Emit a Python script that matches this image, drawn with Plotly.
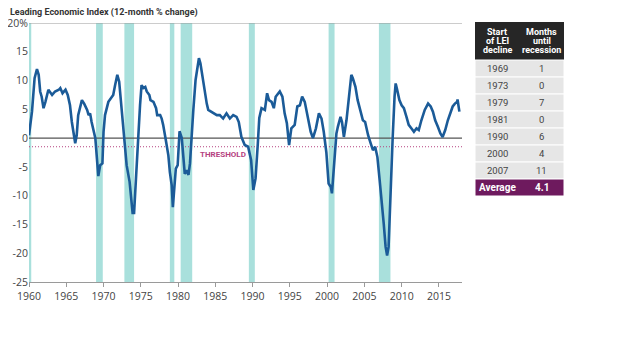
import plotly.graph_objects as go

# ---- data ----
years = [1960.0, 1960.4, 1960.75, 1961.07, 1961.3, 1961.5, 1961.7, 1961.95, 1962.2, 1962.6,
         1963.1, 1963.5, 1964.0, 1964.2, 1964.5, 1964.9, 1965.2, 1965.5, 1965.75, 1966.0,
         1966.2, 1966.4, 1966.6, 1967.1, 1967.4, 1967.8, 1968.0, 1968.2, 1968.4, 1968.9,
         1969.1, 1969.3, 1969.55, 1969.85, 1970.0, 1970.2, 1970.65, 1971.1, 1971.3, 1971.55,
         1971.85, 1972.1, 1972.3, 1972.6, 1972.75, 1973.1, 1973.5, 1973.8, 1973.9, 1974.1,
         1974.2, 1974.5, 1974.7, 1974.9, 1975.1, 1975.35, 1975.6, 1975.8, 1976.15, 1976.3,
         1976.7, 1977.05, 1977.2, 1977.6, 1977.8, 1978.0, 1978.35, 1978.7, 1978.9, 1979.15,
         1979.3, 1979.45, 1979.7, 1979.95, 1980.2, 1980.5, 1980.7, 1980.9, 1981.15, 1981.4,
         1981.6, 1981.8, 1982.05, 1982.35, 1982.6, 1982.8, 1983.0, 1983.25, 1983.5, 1983.85,
         1984.05, 1984.4, 1984.7, 1985.2, 1985.6, 1986.05, 1986.5, 1986.95, 1987.4, 1987.85,
         1988.15, 1988.5, 1988.95, 1989.4, 1989.8, 1989.95, 1990.1, 1990.4, 1990.6, 1990.7,
         1990.9, 1991.2, 1991.65, 1991.95, 1992.2, 1992.55, 1992.85, 1993.1, 1993.65, 1994.0,
         1994.3, 1994.6, 1994.9, 1995.2, 1995.65, 1996.0, 1996.35, 1996.65, 1997.0, 1997.45,
         1997.8, 1998.1, 1998.5, 1998.9, 1999.25, 1999.55, 1999.9, 2000.2, 2000.5, 2000.65,
         2000.95, 2001.25, 2001.45, 2001.8, 2002.0, 2002.25, 2002.6, 2002.9, 2003.25, 2003.45,
         2003.8, 2004.1, 2004.5, 2004.8, 2005.1, 2005.5, 2005.85, 2006.15, 2006.45, 2006.75,
         2007.05, 2007.35, 2007.6, 2007.85, 2008.05, 2008.25, 2008.4, 2008.6, 2008.8, 2009.05,
         2009.2, 2009.4, 2009.7, 2010.0, 2010.3, 2010.65, 2010.95, 2011.3, 2011.65, 2012.0,
         2012.3, 2012.65, 2013.1, 2013.55, 2013.9, 2014.2, 2014.5, 2014.85, 2015.2, 2015.5,
         2015.85, 2016.2, 2016.55, 2016.85, 2017.15, 2017.45, 2017.5, 2017.6, 2017.75]
lei_change = [0.5, 4.6, 10.4, 12.0, 11.0, 8.1, 7.2, 5.2, 6.3, 8.4,
              7.5, 8.1, 8.4, 8.7, 7.8, 8.4, 7.5, 5.7, 2.8, 0.5,
              -0.9, 0.5, 4.0, 6.6, 6.0, 4.9, 4.0, 4.3, 2.8, 0.0,
              -3.0, -6.6, -4.7, -4.4, 1.1, 4.0, 6.3, 7.2, 7.5, 9.2,
              11.0, 9.8, 6.9, 2.8, 0.0, -4.7, -7.6, -11.1, -13.0, -13.0,
              -10.5, -4.7, 0.0, 5.7, 9.2, 8.7, 8.9, 8.1, 7.5, 6.6,
              6.3, 5.2, 4.0, 4.0, 3.4, 2.3, -0.3, -3.0, -5.9, -8.2,
              -12.0, -8.8, -5.3, -4.7, 1.2, 0.0, -3.8, -6.2, -5.6, -6.4,
              -4.4, 0.8, 4.9, 10.1, 12.4, 13.9, 13.0, 10.7, 8.4, 6.0,
              4.9, 4.6, 4.3, 4.0, 4.0, 3.4, 4.3, 3.4, 4.0, 3.7,
              2.8, 0.2, -1.2, -1.5, -3.8, -6.2, -9.0, -7.0, -4.0, -1.0,
              3.5, 5.2, 4.9, 7.8, 6.6, 6.3, 5.2, 7.2, 8.1, 7.2,
              4.3, 2.6, -1.2, 1.7, 2.3, 5.5, 5.7, 7.2, 6.3, 3.7,
              1.1, 0.0, 1.7, 4.3, 3.4, 1.1, -2.5, -7.9, -8.5, -9.6,
              -3.8, 0.8, 2.0, 3.7, 2.8, 0.2, 3.1, 7.2, 11.0, 10.4,
              8.9, 6.6, 4.3, 3.1, 2.8, 0.5, -0.9, -2.1, -1.5, -3.3,
              -7.3, -10.8, -14.9, -18.9, -20.4, -18.9, -13.1, -6.7, 0.2, 7.2,
              9.5, 8.4, 6.6, 5.7, 5.2, 3.7, 2.3, 1.7, 1.1, 1.7,
              1.4, 3.1, 4.9, 6.0, 5.5, 4.6, 3.1, 2.0, 0.8, 0.2,
              1.4, 3.1, 4.3, 5.5, 6.0, 6.3, 6.7, 5.7, 4.6]

recession_start = [1960.0, 1969.0, 1972.8, 1978.9, 1980.35, 1989.5, 2000.2, 2006.95]
recession_end = [1960.3, 1969.9, 1974.1, 1979.5, 1981.9, 1990.3, 2001.0, 2008.5]

threshold = -1.5

x_ticks = [1960, 1965, 1970, 1975, 1980, 1985, 1990, 1995, 2000, 2005, 2010, 2015]
y_ticks = [20, 15, 10, 5, 0, -5, -10, -15, -20, -25]
y_tick_labels = ["20%", "15", "10", "5", "0", "-5", "-10", "-15", "-20", "-25"]

header_col1 = ["Start", "of LEI", "decline"]
header_col2 = ["Months", "until", "recession"]
decline_start = ["1969", "1973", "1979", "1981", "1990", "2000", "2007", "Average"]
months_until = ["1", "0", "7", "0", "6", "4", "11", "4.1"]

# ---- layout geometry (page has an 8px body margin) ----
OFF = 8
W, H = 640 - OFF, 357 - OFF
ml, mr, mt, mb = 29 - OFF, 10, 4, 75
plot_w = W - ml - mr
plot_h = H - mt - mb


def px_x(sx):  # screen x -> paper x
    return (sx - OFF - ml) / plot_w


def px_y(sy):  # screen y -> paper y
    return (H - mb - (sy - OFF)) / plot_h


FONT = "Roboto, Open Sans, sans-serif"

fig = go.Figure()

fig.add_trace(go.Scatter(
    x=years, y=lei_change, mode="lines",
    line=dict(color="#1b5b98", width=2.6),
    hoverinfo="skip", showlegend=False))

shapes = []
for s, e in zip(recession_start, recession_end):
    shapes.append(dict(type="rect", xref="x", yref="y", x0=s, x1=e, y0=-25, y1=20,
                       fillcolor="#a9e0dc", line=dict(width=0), layer="below"))
shapes.append(dict(type="line", xref="x", yref="y", x0=1960, x1=2018.1, y0=0, y1=0,
                   line=dict(color="#555555", width=1.4), layer="below"))
shapes.append(dict(type="line", xref="x", yref="y", x0=1960, x1=2018.1, y0=20, y1=20,
                   line=dict(color="#9a9a9a", width=1.2), layer="below"))
shapes.append(dict(type="line", xref="x", yref="y", x0=1960, x1=2018.1,
                   y0=threshold, y1=threshold,
                   line=dict(color="#b5427f", width=1, dash="1px,2px"), layer="below"))

# ---- table on its own (hidden) axes: x in columns, y in pixel-rows from top ----
HEAD_H, ROW_H, LINE_H = 38, 17, 9.3
n = len(decline_start)
table_h = HEAD_H + n * ROW_H
annotations = []

shapes.append(dict(type="rect", xref="x2", yref="y2", x0=0, x1=2, y0=0, y1=HEAD_H,
                   fillcolor="#262626", line=dict(width=0)))
for c, lines in enumerate([header_col1, header_col2]):
    for i, t in enumerate(lines):
        annotations.append(dict(xref="x2", yref="y2", x=c + 0.5,
                                y=HEAD_H / 2 + (i - 1) * LINE_H, text="<b>%s</b>" % t,
                                showarrow=False, xanchor="center", yanchor="middle",
                                font=dict(family=FONT, size=9, color="#ffffff")))

for r in range(n):
    last = r == n - 1
    y0 = HEAD_H + r * ROW_H
    shapes.append(dict(type="rect", xref="x2", yref="y2", x0=0, x1=2, y0=y0, y1=y0 + ROW_H,
                       fillcolor="#6e1a5e" if last else "#e6e6e6",
                       line=dict(color="#ffffff", width=1)))
    for c, col in enumerate([decline_start, months_until]):
        txt = "<b>%s</b>" % col[r] if last else col[r]
        annotations.append(dict(xref="x2", yref="y2", x=c + 0.5, y=y0 + ROW_H / 2,
                                text=txt, showarrow=False, xanchor="center",
                                yanchor="middle",
                                font=dict(family=FONT, size=9.5 if not last else 10,
                                          color="#ffffff" if last else "#444444")))

annotations.append(dict(x=1982.65, y=-2.8, xref="x", yref="y", text="<b>THRESHOLD</b>",
                        showarrow=False, xanchor="left", yanchor="middle",
                        font=dict(family=FONT, size=8, color="#b5427f")))
annotations.append(dict(x=px_x(8), y=px_y(13), xref="paper", yref="paper",
                        text="<b>Leading Economic Index (12-month % change)</b>",
                        showarrow=False, xanchor="left", yanchor="middle",
                        font=dict(family=FONT, size=9, color="#333333")))

fig.update_layout(
    width=W, height=H,
    margin=dict(l=ml, r=mr, t=mt, b=mb, autoexpand=False),
    paper_bgcolor="white", plot_bgcolor="white",
    shapes=shapes, annotations=annotations,
    font=dict(family="Open Sans, sans-serif", size=10, color="#444444"),
    xaxis=dict(domain=[0, px_x(462)], range=[1960, 2018.1], tickvals=x_ticks,
               showgrid=False, zeroline=False, showline=True, linecolor="#9a9a9a",
               linewidth=1, ticks="outside", ticklen=4, tickcolor="#9a9a9a",
               automargin=False, tickfont=dict(size=10.5, color="#444444")),
    yaxis=dict(domain=[0, px_y(23)], range=[-25, 20], tickvals=y_ticks,
               ticktext=y_tick_labels, showgrid=False, zeroline=False, showline=False,
               automargin=False, ticks="", tickfont=dict(size=10.5, color="#444444")),
    xaxis2=dict(domain=[px_x(475), px_x(564)], range=[0, 2], anchor="y2", visible=False,
                fixedrange=True),
    yaxis2=dict(domain=[px_y(22 + table_h), px_y(22)], range=[table_h, 0], anchor="x2",
                visible=False, fixedrange=True),
    showlegend=False,
)

fig.write_html("out.html")
